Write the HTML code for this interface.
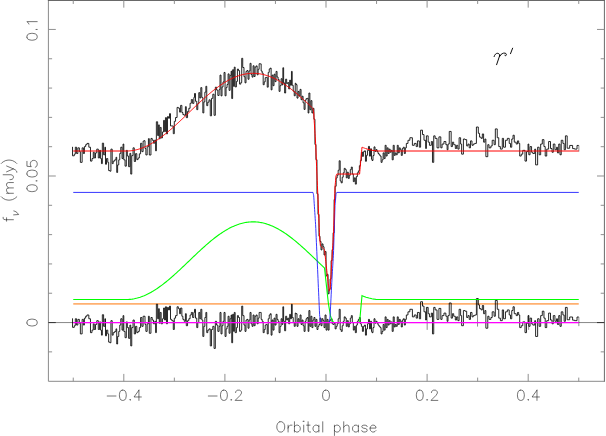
<!DOCTYPE html>
<html><head><meta charset="utf-8"><title>light curve</title>
<style>
html,body{margin:0;padding:0;background:#fff;font-family:"Liberation Sans",sans-serif;}
svg{display:block}
</style></head><body>
<svg width="606" height="436" viewBox="0 0 606 436">
<defs><filter id="sb" x="0" y="0" width="606" height="436" filterUnits="userSpaceOnUse"><feGaussianBlur stdDeviation="0.3"/></filter></defs>
<rect width="606" height="436" fill="#fff"/>
<g fill="none" stroke-linecap="butt" stroke-linejoin="miter">
<path d="M48.4 322.55 H604.4" stroke="#555" stroke-width="0.7"/>
<path d="M73.25 303.88 H578.75" stroke="#ffb070" stroke-width="1.9"/>
<g filter="url(#sb)"><path d="M72.29 146.96 L72.54 146.96 L72.54 155.80 L74.31 155.80 L74.31 154.15 L75.32 154.15 L75.32 147.21 L76.58 147.21 L76.58 153.52 L77.85 153.52 L77.85 147.84 L79.36 147.84 L79.36 151.63 L80.37 151.63 L80.37 162.36 L82.14 162.36 L82.14 147.84 L83.40 147.84 L83.40 153.52 L84.41 153.52 L84.41 146.58 L85.67 146.58 L85.67 144.69 L86.94 144.69 L86.94 143.42 L88.83 143.42 L88.83 147.21 L90.47 147.21 L90.47 161.10 L91.99 161.10 L91.99 158.57 L93.25 158.57 L93.25 152.26 L94.26 152.26 L94.26 157.94 L95.52 157.94 L95.52 152.89 L96.78 152.89 L96.78 149.10 L98.30 149.10 L98.30 157.94 L99.56 157.94 L99.56 150.37 L100.57 150.37 L100.57 158.57 L101.46 158.57 L101.46 163.62 L102.34 163.62 L102.34 143.17 L103.60 143.17 L103.60 154.79 L104.86 154.79 L104.86 147.21 L105.50 147.21 L105.50 164.25 L106.50 164.25 L106.50 158.57 L107.77 158.57 L107.77 162.36 L108.65 162.36 L108.65 170.57 L109.91 170.57 L109.91 171.20 L110.92 171.20 L110.92 149.10 L112.19 149.10 L112.19 163.62 L113.20 163.62 L113.20 161.10 L114.71 161.10 L114.71 159.84 L115.97 159.84 L115.97 157.31 L116.73 157.31 L116.73 172.46 L117.61 172.46 L117.61 164.89 L118.75 164.89 L118.75 159.84 L119.76 159.84 L119.76 153.52 L120.77 153.52 L120.77 147.21 L122.03 147.21 L122.03 158.57 L123.04 158.57 L123.04 144.06 L123.80 144.06 L123.80 159.84 L125.06 159.84 L125.06 166.15 L126.33 166.15 L126.33 150.37 L127.34 150.37 L127.34 156.03 L128.60 156.03 L128.60 166.69 L129.86 166.69 L129.86 153.35 L130.74 153.35 L130.74 174.08 L131.75 174.08 L131.75 155.62 L133.02 155.62 L133.02 147.84 L134.28 147.84 L134.28 161.48 L135.54 161.48 L135.54 153.63 L136.80 153.63 L136.80 159.62 L138.07 159.62 L138.07 157.99 L139.33 157.99 L139.33 153.81 L140.59 153.81 L140.59 143.28 L141.85 143.28 L141.85 151.65 L143.12 151.65 L143.12 141.12 L144.00 141.12 L144.00 140.72 L145.01 140.72 L145.01 148.51 L145.89 148.51 L145.89 154.96 L147.16 154.96 L147.16 146.77 L148.42 146.77 L148.42 138.65 L149.30 138.65 L149.30 155.02 L150.94 155.02 L150.94 138.43 L152.21 138.43 L152.21 140.21 L153.47 140.21 L153.47 143.23 L154.73 143.23 L154.73 140.02 L155.61 140.02 L155.61 150.85 L156.37 150.85 L156.37 121.78 L157.63 121.78 L157.63 135.52 L158.64 135.52 L158.64 124.85 L159.28 124.85 L159.28 138.83 L160.16 138.83 L160.16 127.41 L161.17 127.41 L161.17 137.93 L162.43 137.93 L162.43 131.97 L163.57 131.97 L163.57 120.41 L164.58 120.41 L164.58 131.65 L165.46 131.65 L165.46 117.64 L166.47 117.64 L166.47 133.86 L167.48 133.86 L167.48 116.61 L168.49 116.61 L168.49 118.29 L169.50 118.29 L169.50 113.65 L170.51 113.65 L170.51 125.92 L171.77 125.92 L171.77 125.97 L173.29 125.97 L173.29 133.69 L174.30 133.69 L174.30 121.31 L175.56 121.31 L175.56 117.53 L177.08 117.53 L177.08 107.41 L178.34 107.41 L178.34 108.14 L179.60 108.14 L179.60 112.13 L180.61 112.13 L180.61 105.38 L181.87 105.38 L181.87 112.51 L182.88 112.51 L182.88 114.59 L184.15 114.59 L184.15 115.28 L185.41 115.28 L185.41 106.68 L186.29 106.68 L186.29 117.65 L187.55 117.65 L187.55 111.39 L188.82 111.39 L188.82 108.29 L190.08 108.29 L190.08 103.29 L191.34 103.29 L191.34 99.55 L192.60 99.55 L192.60 103.40 L193.87 103.40 L193.87 97.44 L194.50 97.44 L194.50 93.51 L195.51 93.51 L195.51 101.27 L196.77 101.27 L196.77 109.66 L197.78 109.66 L197.78 103.67 L198.79 103.67 L198.79 92.63 L199.80 92.63 L199.80 98.00 L200.81 98.00 L200.81 87.61 L201.82 87.61 L201.82 97.41 L202.83 97.41 L202.83 112.91 L203.84 112.91 L203.84 101.91 L204.85 101.91 L204.85 92.17 L205.86 92.17 L205.86 86.29 L206.74 86.29 L206.74 105.66 L207.75 105.66 L207.75 102.16 L209.02 102.16 L209.02 99.83 L210.28 99.83 L210.28 115.82 L211.54 115.82 L211.54 98.38 L212.80 98.38 L212.80 94.21 L214.07 94.21 L214.07 115.31 L215.33 115.31 L215.33 87.20 L216.59 87.20 L216.59 90.05 L217.85 90.05 L217.85 95.44 L219.12 95.44 L219.12 89.62 L220.00 89.62 L220.00 75.08 L221.01 75.08 L221.01 95.85 L222.02 95.85 L222.02 86.98 L223.03 86.98 L223.03 81.91 L224.04 81.91 L224.04 72.44 L225.05 72.44 L225.05 95.81 L226.06 95.81 L226.06 87.64 L227.07 87.64 L227.07 84.53 L228.08 84.53 L228.08 73.88 L229.09 73.88 L229.09 90.38 L230.10 90.38 L230.10 75.35 L231.11 75.35 L231.11 71.15 L231.74 71.15 L231.74 98.56 L232.62 98.56 L232.62 69.72 L233.63 69.72 L233.63 86.40 L234.27 86.40 L234.27 67.14 L235.15 67.14 L235.15 86.90 L236.41 86.90 L236.41 81.42 L237.42 81.42 L237.42 69.06 L238.43 69.06 L238.43 70.59 L239.57 70.59 L239.57 84.11 L240.83 84.11 L240.83 82.54 L241.71 82.54 L241.71 58.30 L242.72 58.30 L242.72 67.50 L243.99 67.50 L243.99 76.72 L245.00 76.72 L245.00 82.84 L246.01 82.84 L246.01 71.31 L247.02 71.31 L247.02 70.54 L248.03 70.54 L248.03 79.25 L249.04 79.25 L249.04 70.95 L250.05 70.95 L250.05 63.30 L251.06 63.30 L251.06 74.62 L252.07 74.62 L252.07 77.12 L253.08 77.12 L253.08 65.75 L254.09 65.75 L254.09 76.51 L255.10 76.51 L255.10 67.09 L256.11 67.09 L256.11 65.90 L257.12 65.90 L257.12 74.83 L258.13 74.83 L258.13 69.27 L259.14 69.27 L259.14 63.73 L260.15 63.73 L260.15 63.89 L261.16 63.89 L261.16 71.03 L262.17 71.03 L262.17 73.14 L263.18 73.14 L263.18 84.73 L264.19 84.73 L264.19 81.84 L265.20 81.84 L265.20 77.70 L266.21 77.70 L266.21 77.38 L267.22 77.38 L267.22 87.17 L268.23 87.17 L268.23 72.38 L269.24 72.38 L269.24 68.96 L270.25 68.96 L270.25 68.07 L271.13 68.07 L271.13 89.89 L272.01 89.89 L272.01 75.15 L273.02 75.15 L273.02 85.70 L274.03 85.70 L274.03 74.19 L275.04 74.19 L275.04 81.63 L276.05 81.63 L276.05 71.41 L277.06 71.41 L277.06 77.00 L278.07 77.00 L278.07 79.45 L279.08 79.45 L279.08 91.39 L280.09 91.39 L280.09 85.67 L281.10 85.67 L281.10 78.71 L282.11 78.71 L282.11 84.94 L282.87 84.94 L282.87 67.75 L283.63 67.75 L283.63 82.85 L284.64 82.85 L284.64 93.00 L285.65 93.00 L285.65 79.17 L286.66 79.17 L286.66 83.67 L287.67 83.67 L287.67 82.50 L288.68 82.50 L288.68 88.92 L289.69 88.92 L289.69 80.12 L290.45 80.12 L290.45 85.21 L291.46 85.21 L291.46 71.38 L292.21 71.38 L292.21 85.33 L293.22 85.33 L293.22 91.18 L294.23 91.18 L294.23 95.79 L295.24 95.79 L295.24 83.26 L296.00 83.26 L296.00 84.63 L297.01 84.63 L297.01 98.11 L298.02 98.11 L298.02 91.40 L299.03 91.40 L299.03 96.06 L300.04 96.06 L300.04 89.37 L301.05 89.37 L301.05 99.73 L302.06 99.73 L302.06 96.22 L303.07 96.22 L303.07 102.81 L304.08 102.81 L304.08 109.41 L305.09 109.41 L305.09 100.24 L306.10 100.24 L306.10 98.65 L307.11 98.65 L307.11 98.33 L308.12 98.33 L308.12 113.04 L308.88 113.04 L308.88 93.04 L309.89 93.04 L309.89 109.77 L310.90 109.77 L310.90 100.63 L311.91 100.63 L311.91 112.96 L312.92 112.96 L312.92 108.31 L313.93 108.31 L313.93 119.23 L314.94 119.23 L314.94 144.48 L315.95 144.48 L315.95 159.69 L316.96 159.69 L316.96 193.75 L317.97 193.75 L317.97 214.36 L318.98 214.36 L318.98 236.23 L319.99 236.23 L319.99 241.36 L321.00 241.36 L321.00 249.90 L322.01 249.90 L322.01 243.92 L323.02 243.92 L323.02 246.77 L324.03 246.77 L324.03 254.96 L325.04 254.96 L325.04 251.56 L326.05 251.56 L326.05 275.92 L327.06 275.92 L327.06 274.41 L328.07 274.41 L328.07 293.81 L329.08 293.81 L329.08 289.25 L330.09 289.25 L330.09 279.09 L331.10 279.09 L331.10 260.66 L332.11 260.66 L332.11 249.68 L333.12 249.68 L333.12 232.83 L334.13 232.83 L334.13 199.52 L335.14 199.52 L335.14 186.27 L336.15 186.27 L336.15 177.96 L337.16 177.96 L337.16 175.30 L338.17 175.30 L338.17 170.25 L339.18 170.25 L339.18 160.78 L340.19 160.78 L340.19 180.98 L341.20 180.98 L341.20 182.87 L342.21 182.87 L342.21 177.19 L343.22 177.19 L343.22 172.77 L344.23 172.77 L344.23 168.36 L345.24 168.36 L345.24 169.62 L346.25 169.62 L346.25 177.82 L347.26 177.82 L347.26 172.14 L348.27 172.14 L348.27 178.45 L349.28 178.45 L349.28 175.30 L350.29 175.30 L350.29 169.62 L351.30 169.62 L351.30 167.09 L352.31 167.09 L352.31 174.04 L353.32 174.04 L353.32 181.61 L354.33 181.61 L354.33 177.82 L355.34 177.82 L355.34 184.14 L356.35 184.14 L356.35 176.56 L357.36 176.56 L357.36 172.77 L358.37 172.77 L358.37 170.88 L359.38 170.88 L359.38 165.74 L360.39 165.74 L360.39 160.59 L361.40 160.59 L361.40 152.02 L362.41 152.02 L362.41 156.37 L363.42 156.37 L363.42 151.72 L364.43 151.72 L364.43 150.83 L365.44 150.83 L365.44 161.28 L366.45 161.28 L366.45 155.30 L367.46 155.30 L367.46 150.55 L368.47 150.55 L368.47 146.41 L369.48 146.41 L369.48 156.14 L370.49 156.14 L370.49 148.79 L371.50 148.79 L371.50 159.05 L372.00 159.05 L372.00 160.46 L373.01 160.46 L373.01 155.58 L374.02 155.58 L374.02 146.88 L375.03 146.88 L375.03 151.42 L376.04 151.42 L376.04 149.62 L377.05 149.62 L377.05 151.58 L378.06 151.58 L378.06 153.51 L379.07 153.51 L379.07 154.79 L380.08 154.79 L380.08 156.05 L381.09 156.05 L381.09 162.36 L382.10 162.36 L382.10 159.84 L383.11 159.84 L383.11 152.89 L384.12 152.89 L384.12 158.57 L385.13 158.57 L385.13 145.32 L386.14 145.32 L386.14 156.05 L387.15 156.05 L387.15 147.84 L388.16 147.84 L388.16 153.52 L389.17 153.52 L389.17 149.10 L390.18 149.10 L390.18 152.26 L391.19 152.26 L391.19 150.37 L392.20 150.37 L392.20 159.84 L393.21 159.84 L393.21 145.32 L394.22 145.32 L394.22 155.42 L395.23 155.42 L395.23 152.89 L396.24 152.89 L396.24 154.79 L397.25 154.79 L397.25 145.32 L398.26 145.32 L398.26 152.89 L399.27 152.89 L399.27 147.84 L400.28 147.84 L400.28 149.74 L401.29 149.74 L401.29 155.42 L402.30 155.42 L402.30 148.47 L403.31 148.47 L403.31 147.21 L404.32 147.21 L404.32 153.52 L405.33 153.52 L405.33 147.84 L406.34 147.84 L406.34 143.42 L407.98 143.42 L407.98 140.27 L409.87 140.27 L409.87 137.74 L412.40 137.74 L412.40 145.32 L414.29 145.32 L414.29 143.42 L416.19 143.42 L416.19 146.58 L417.45 146.58 L417.45 140.90 L419.34 140.90 L419.34 147.21 L420.60 147.21 L420.60 130.17 L422.50 130.17 L422.50 134.59 L424.01 134.59 L424.01 140.27 L425.65 140.27 L425.65 148.47 L426.41 148.47 L426.41 135.85 L428.18 135.85 L428.18 142.16 L429.44 142.16 L429.44 145.32 L431.34 145.32 L431.34 141.53 L432.47 141.53 L432.47 162.36 L433.73 162.36 L433.73 135.85 L435.12 135.85 L435.12 138.37 L437.02 138.37 L437.02 147.84 L438.91 147.84 L438.91 136.86 L440.80 136.86 L440.80 147.84 L442.07 147.84 L442.07 144.06 L443.96 144.06 L443.96 141.53 L445.85 141.53 L445.85 144.69 L447.12 144.69 L447.12 149.74 L448.00 149.74 L448.00 144.06 L449.26 144.06 L449.26 131.43 L451.16 131.43 L451.16 146.58 L452.42 146.58 L452.42 142.16 L453.68 142.16 L453.68 144.69 L455.32 144.69 L455.32 148.47 L456.58 148.47 L456.58 145.32 L457.85 145.32 L457.85 149.10 L459.11 149.10 L459.11 137.74 L460.62 137.74 L460.62 144.06 L461.63 144.06 L461.63 154.15 L463.40 154.15 L463.40 139.01 L465.04 139.01 L465.04 139.64 L466.68 139.64 L466.68 145.95 L467.95 145.95 L467.95 144.06 L469.21 144.06 L469.21 147.84 L470.47 147.84 L470.47 140.90 L471.99 140.90 L471.99 145.32 L473.25 145.32 L473.25 144.06 L474.76 144.06 L474.76 143.42 L476.41 143.42 L476.41 127.01 L478.30 127.01 L478.30 133.32 L479.56 133.32 L479.56 137.11 L481.08 137.11 L481.08 138.37 L482.34 138.37 L482.34 133.96 L483.60 133.96 L483.60 142.16 L484.86 142.16 L484.86 139.01 L485.87 139.01 L485.87 156.68 L487.77 156.68 L487.77 144.69 L489.03 144.69 L489.03 147.84 L490.92 147.84 L490.92 145.95 L492.19 145.95 L492.19 140.27 L494.08 140.27 L494.08 144.69 L495.34 144.69 L495.34 128.91 L497.24 128.91 L497.24 137.74 L498.75 137.74 L498.75 146.58 L500.39 146.58 L500.39 149.10 L502.29 149.10 L502.29 138.37 L503.55 138.37 L503.55 147.21 L505.44 147.21 L505.44 140.27 L507.34 140.27 L507.34 138.37 L509.23 138.37 L509.23 143.42 L510.49 143.42 L510.49 147.21 L511.75 147.21 L511.75 139.01 L513.02 139.01 L513.02 135.22 L514.28 135.22 L514.28 142.16 L516.17 142.16 L516.17 144.06 L517.44 144.06 L517.44 140.90 L518.70 140.90 L518.70 143.42 L519.71 143.42 L519.71 156.05 L521.22 156.05 L521.22 154.15 L522.74 154.15 L522.74 150.37 L524.00 150.37 L524.00 150.37 L525.01 150.37 L525.01 161.10 L526.52 161.10 L526.52 151.63 L528.04 151.63 L528.04 144.06 L528.80 144.06 L528.80 154.79 L530.06 154.79 L530.06 146.58 L531.57 146.58 L531.57 152.26 L532.84 152.26 L532.84 153.52 L534.73 153.52 L534.73 149.10 L535.61 149.10 L535.61 164.89 L537.63 164.89 L537.63 147.21 L539.15 147.21 L539.15 154.79 L540.66 154.79 L540.66 144.06 L542.31 144.06 L542.31 139.64 L543.95 139.64 L543.95 146.58 L545.21 146.58 L545.21 156.05 L546.72 156.05 L546.72 149.10 L548.62 149.10 L548.62 141.53 L550.51 141.53 L550.51 148.47 L552.03 148.47 L552.03 152.26 L553.29 152.26 L553.29 144.06 L554.93 144.06 L554.93 149.74 L556.57 149.74 L556.57 147.21 L557.46 147.21 L557.46 152.89 L558.72 152.89 L558.72 144.06 L559.98 144.06 L559.98 154.79 L561.24 154.79 L561.24 140.27 L562.88 140.27 L562.88 143.42 L564.15 143.42 L564.15 149.74 L565.41 149.74 L565.41 135.85 L567.18 135.85 L567.18 148.22 L569.70 148.22 L569.70 145.44 L572.60 145.44 L572.60 148.60 L574.50 148.60 L574.50 149.10 L577.02 149.10 L577.02 145.44 L578.75 145.44" stroke="#000" stroke-width="0.85"/>
<path d="M72.29 318.51 L72.54 318.51 L72.54 327.35 L74.31 327.35 L74.31 325.71 L75.32 325.71 L75.32 318.76 L76.58 318.76 L76.58 325.07 L77.85 325.07 L77.85 319.39 L79.36 319.39 L79.36 323.18 L80.37 323.18 L80.37 333.91 L82.14 333.91 L82.14 319.39 L83.40 319.39 L83.40 325.07 L84.41 325.07 L84.41 318.13 L85.67 318.13 L85.67 316.24 L86.94 316.24 L86.94 314.98 L88.83 314.98 L88.83 318.76 L90.47 318.76 L90.47 332.65 L91.99 332.65 L91.99 330.12 L93.25 330.12 L93.25 323.81 L94.26 323.81 L94.26 329.49 L95.52 329.49 L95.52 324.44 L96.78 324.44 L96.78 320.66 L98.30 320.66 L98.30 329.49 L99.56 329.49 L99.56 321.92 L100.57 321.92 L100.57 330.12 L101.46 330.12 L101.46 335.17 L102.34 335.17 L102.34 314.72 L103.60 314.72 L103.60 326.34 L104.86 326.34 L104.86 318.76 L105.50 318.76 L105.50 335.81 L106.50 335.81 L106.50 330.12 L107.77 330.12 L107.77 333.91 L108.65 333.91 L108.65 342.12 L109.91 342.12 L109.91 342.75 L110.92 342.75 L110.92 320.66 L112.19 320.66 L112.19 335.17 L113.20 335.17 L113.20 332.65 L114.71 332.65 L114.71 331.39 L115.97 331.39 L115.97 328.86 L116.73 328.86 L116.73 344.01 L117.61 344.01 L117.61 336.44 L118.75 336.44 L118.75 331.39 L119.76 331.39 L119.76 325.07 L120.77 325.07 L120.77 318.76 L122.03 318.76 L122.03 330.12 L123.04 330.12 L123.04 315.61 L123.80 315.61 L123.80 331.39 L125.06 331.39 L125.06 337.70 L126.33 337.70 L126.33 321.92 L127.34 321.92 L127.34 327.60 L128.60 327.60 L128.60 338.33 L129.86 338.33 L129.86 325.07 L130.74 325.07 L130.74 345.91 L131.75 345.91 L131.75 327.60 L133.02 327.60 L133.02 320.03 L134.28 320.03 L134.28 333.91 L135.54 333.91 L135.54 326.34 L136.80 326.34 L136.80 332.65 L138.07 332.65 L138.07 331.39 L139.33 331.39 L139.33 327.60 L140.59 327.60 L140.59 317.50 L141.85 317.50 L141.85 326.34 L143.12 326.34 L143.12 316.24 L144.00 316.24 L144.00 316.24 L145.01 316.24 L145.01 324.44 L145.89 324.44 L145.89 331.39 L147.16 331.39 L147.16 323.81 L148.42 323.81 L148.42 316.24 L149.30 316.24 L149.30 333.28 L150.94 333.28 L150.94 317.50 L152.21 317.50 L152.21 320.03 L153.47 320.03 L153.47 323.81 L154.73 323.81 L154.73 321.29 L155.61 321.29 L155.61 332.65 L156.37 332.65 L156.37 304.24 L157.63 304.24 L157.63 318.76 L158.64 318.76 L158.64 308.66 L159.28 308.66 L159.28 323.18 L160.16 323.18 L160.16 312.45 L161.17 312.45 L161.17 323.81 L162.43 323.81 L162.43 318.76 L163.57 318.76 L163.57 308.03 L164.58 308.03 L164.58 320.03 L165.46 320.03 L165.46 306.77 L166.47 306.77 L166.47 323.81 L167.48 323.81 L167.48 307.40 L168.49 307.40 L168.49 309.93 L169.50 309.93 L169.50 306.14 L170.51 306.14 L170.51 319.39 L171.77 319.39 L171.77 320.66 L173.29 320.66 L173.29 329.49 L174.30 329.49 L174.30 318.13 L175.56 318.13 L175.56 315.61 L177.08 315.61 L177.08 306.77 L178.34 306.77 L178.34 308.66 L179.60 308.66 L179.60 313.71 L180.61 313.71 L180.61 308.03 L181.87 308.03 L181.87 316.24 L182.88 316.24 L182.88 319.39 L184.15 319.39 L184.15 321.29 L185.41 321.29 L185.41 313.71 L186.29 313.71 L186.29 325.71 L187.55 325.71 L187.55 320.66 L188.82 320.66 L188.82 318.76 L190.08 318.76 L190.08 314.98 L191.34 314.98 L191.34 312.45 L192.60 312.45 L192.60 317.50 L193.87 317.50 L193.87 312.45 L194.50 312.45 L194.50 309.29 L195.51 309.29 L195.51 318.13 L196.77 318.13 L196.77 327.60 L197.78 327.60 L197.78 322.55 L198.79 322.55 L198.79 312.45 L199.80 312.45 L199.80 318.76 L200.81 318.76 L200.81 309.29 L201.82 309.29 L201.82 320.03 L202.83 320.03 L202.83 336.44 L203.84 336.44 L203.84 326.34 L204.85 326.34 L204.85 317.50 L205.86 317.50 L205.86 312.45 L206.74 312.45 L206.74 332.65 L207.75 332.65 L207.75 330.12 L209.02 330.12 L209.02 328.86 L210.28 328.86 L210.28 345.91 L211.54 345.91 L211.54 329.49 L212.80 329.49 L212.80 326.34 L214.07 326.34 L214.07 348.43 L215.33 348.43 L215.33 321.29 L216.59 321.29 L216.59 325.07 L217.85 325.07 L217.85 331.39 L219.12 331.39 L219.12 326.34 L220.00 326.34 L220.00 312.45 L221.01 312.45 L221.01 333.91 L222.02 333.91 L222.02 325.71 L223.03 325.71 L223.03 321.29 L224.04 321.29 L224.04 312.45 L225.05 312.45 L225.05 336.44 L226.06 336.44 L226.06 328.86 L227.07 328.86 L227.07 326.34 L228.08 326.34 L228.08 316.24 L229.09 316.24 L229.09 333.28 L230.10 333.28 L230.10 318.76 L231.11 318.76 L231.11 314.98 L231.74 314.98 L231.74 342.75 L232.62 342.75 L232.62 314.34 L233.63 314.34 L233.63 331.39 L234.27 331.39 L234.27 312.45 L235.15 312.45 L235.15 332.65 L236.41 332.65 L236.41 327.60 L237.42 327.60 L237.42 315.61 L238.43 315.61 L238.43 317.50 L239.57 317.50 L239.57 331.39 L240.83 331.39 L240.83 330.12 L241.71 330.12 L241.71 306.14 L242.72 306.14 L242.72 315.61 L243.99 315.61 L243.99 325.07 L245.00 325.07 L245.00 331.39 L246.01 331.39 L246.01 320.03 L247.02 320.03 L247.02 319.39 L248.03 319.39 L248.03 328.23 L249.04 328.23 L249.04 320.03 L250.05 320.03 L250.05 312.45 L251.06 312.45 L251.06 323.81 L252.07 323.81 L252.07 326.34 L253.08 326.34 L253.08 314.98 L254.09 314.98 L254.09 325.71 L255.10 325.71 L255.10 316.24 L256.11 316.24 L256.11 314.98 L257.12 314.98 L257.12 323.81 L258.13 323.81 L258.13 318.13 L259.14 318.13 L259.14 312.45 L260.15 312.45 L260.15 312.45 L261.16 312.45 L261.16 319.39 L262.17 319.39 L262.17 321.29 L263.18 321.29 L263.18 332.65 L264.19 332.65 L264.19 329.49 L265.20 329.49 L265.20 325.07 L266.21 325.07 L266.21 324.44 L267.22 324.44 L267.22 333.91 L268.23 333.91 L268.23 318.76 L269.24 318.76 L269.24 314.98 L270.25 314.98 L270.25 313.71 L271.13 313.71 L271.13 335.17 L272.01 335.17 L272.01 320.03 L273.02 320.03 L273.02 330.12 L274.03 330.12 L274.03 318.13 L275.04 318.13 L275.04 325.07 L276.05 325.07 L276.05 314.34 L277.06 314.34 L277.06 319.39 L278.07 319.39 L278.07 321.29 L279.08 321.29 L279.08 332.65 L280.09 332.65 L280.09 326.34 L281.10 326.34 L281.10 318.76 L282.11 318.76 L282.11 324.44 L282.87 324.44 L282.87 306.77 L283.63 306.77 L283.63 321.29 L284.64 321.29 L284.64 330.76 L285.65 330.76 L285.65 316.24 L286.66 316.24 L286.66 320.03 L287.67 320.03 L287.67 318.13 L288.68 318.13 L288.68 323.81 L289.69 323.81 L289.69 314.34 L290.45 314.34 L290.45 318.76 L291.46 318.76 L291.46 304.24 L292.21 304.24 L292.21 317.50 L293.22 317.50 L293.22 322.55 L294.23 322.55 L294.23 326.34 L295.24 326.34 L295.24 313.08 L296.00 313.08 L296.00 313.71 L297.01 313.71 L297.01 326.34 L298.02 326.34 L298.02 318.76 L299.03 318.76 L299.03 322.55 L300.04 322.55 L300.04 314.98 L301.05 314.98 L301.05 324.44 L302.06 324.44 L302.06 320.03 L303.07 320.03 L303.07 325.71 L304.08 325.71 L304.08 331.39 L305.09 331.39 L305.09 321.29 L306.10 321.29 L306.10 318.76 L307.11 318.76 L307.11 317.50 L308.12 317.50 L308.12 331.39 L308.88 331.39 L308.88 310.56 L309.89 310.56 L309.89 326.34 L310.90 326.34 L310.90 316.24 L311.91 316.24 L311.91 327.60 L312.92 327.60 L312.92 320.03 L313.93 320.03 L313.93 317.50 L314.94 317.50 L314.94 326.34 L315.95 326.34 L315.95 319.39 L316.96 319.39 L316.96 329.49 L317.97 329.49 L317.97 326.34 L318.98 326.34 L318.98 324.44 L319.99 324.44 L319.99 318.13 L321.00 318.13 L321.00 325.71 L322.01 325.71 L322.01 318.76 L323.02 318.76 L323.02 320.66 L324.03 320.66 L324.03 327.60 L325.04 327.60 L325.04 314.98 L326.05 314.98 L326.05 330.12 L327.06 330.12 L327.06 319.39 L328.07 319.39 L328.07 330.12 L329.08 330.12 L329.08 321.29 L330.09 321.29 L330.09 320.03 L331.10 320.03 L331.10 318.76 L332.11 318.76 L332.11 323.81 L333.12 323.81 L333.12 324.44 L334.13 324.44 L334.13 323.18 L335.14 323.18 L335.14 328.86 L336.15 328.86 L336.15 326.34 L337.16 326.34 L337.16 323.81 L338.17 323.81 L338.17 318.76 L339.18 318.76 L339.18 309.29 L340.19 309.29 L340.19 329.49 L341.20 329.49 L341.20 331.39 L342.21 331.39 L342.21 325.71 L343.22 325.71 L343.22 321.29 L344.23 321.29 L344.23 316.87 L345.24 316.87 L345.24 318.13 L346.25 318.13 L346.25 326.34 L347.26 326.34 L347.26 320.66 L348.27 320.66 L348.27 326.97 L349.28 326.97 L349.28 323.81 L350.29 323.81 L350.29 318.13 L351.30 318.13 L351.30 315.61 L352.31 315.61 L352.31 322.55 L353.32 322.55 L353.32 330.12 L354.33 330.12 L354.33 326.34 L355.34 326.34 L355.34 332.65 L356.35 332.65 L356.35 325.07 L357.36 325.07 L357.36 321.29 L358.37 321.29 L358.37 319.39 L359.38 319.39 L359.38 317.50 L360.39 317.50 L360.39 323.81 L361.40 323.81 L361.40 326.34 L362.41 326.34 L362.41 331.39 L363.42 331.39 L363.42 326.34 L364.43 326.34 L364.43 325.07 L365.44 325.07 L365.44 335.17 L366.45 335.17 L366.45 328.86 L367.46 328.86 L367.46 323.81 L368.47 323.81 L368.47 319.39 L369.48 319.39 L369.48 328.86 L370.49 328.86 L370.49 321.29 L371.50 321.29 L371.50 331.39 L372.00 331.39 L372.00 332.65 L373.01 332.65 L373.01 327.60 L374.02 327.60 L374.02 318.76 L375.03 318.76 L375.03 323.18 L376.04 323.18 L376.04 321.29 L377.05 321.29 L377.05 323.18 L378.06 323.18 L378.06 325.07 L379.07 325.07 L379.07 326.34 L380.08 326.34 L380.08 327.60 L381.09 327.60 L381.09 333.91 L382.10 333.91 L382.10 331.39 L383.11 331.39 L383.11 324.44 L384.12 324.44 L384.12 330.12 L385.13 330.12 L385.13 316.87 L386.14 316.87 L386.14 327.60 L387.15 327.60 L387.15 319.39 L388.16 319.39 L388.16 325.07 L389.17 325.07 L389.17 320.66 L390.18 320.66 L390.18 323.81 L391.19 323.81 L391.19 321.92 L392.20 321.92 L392.20 331.39 L393.21 331.39 L393.21 316.87 L394.22 316.87 L394.22 326.97 L395.23 326.97 L395.23 324.44 L396.24 324.44 L396.24 326.34 L397.25 326.34 L397.25 316.87 L398.26 316.87 L398.26 324.44 L399.27 324.44 L399.27 319.39 L400.28 319.39 L400.28 321.29 L401.29 321.29 L401.29 326.97 L402.30 326.97 L402.30 320.03 L403.31 320.03 L403.31 318.76 L404.32 318.76 L404.32 325.07 L405.33 325.07 L405.33 319.39 L406.34 319.39 L406.34 314.98 L407.98 314.98 L407.98 311.82 L409.87 311.82 L409.87 309.29 L412.40 309.29 L412.40 316.87 L414.29 316.87 L414.29 314.98 L416.19 314.98 L416.19 318.13 L417.45 318.13 L417.45 312.45 L419.34 312.45 L419.34 318.76 L420.60 318.76 L420.60 301.72 L422.50 301.72 L422.50 306.14 L424.01 306.14 L424.01 311.82 L425.65 311.82 L425.65 320.03 L426.41 320.03 L426.41 307.40 L428.18 307.40 L428.18 313.71 L429.44 313.71 L429.44 316.87 L431.34 316.87 L431.34 313.08 L432.47 313.08 L432.47 333.91 L433.73 333.91 L433.73 307.40 L435.12 307.40 L435.12 309.93 L437.02 309.93 L437.02 319.39 L438.91 319.39 L438.91 308.41 L440.80 308.41 L440.80 319.39 L442.07 319.39 L442.07 315.61 L443.96 315.61 L443.96 313.08 L445.85 313.08 L445.85 316.24 L447.12 316.24 L447.12 321.29 L448.00 321.29 L448.00 315.61 L449.26 315.61 L449.26 302.98 L451.16 302.98 L451.16 318.13 L452.42 318.13 L452.42 313.71 L453.68 313.71 L453.68 316.24 L455.32 316.24 L455.32 320.03 L456.58 320.03 L456.58 316.87 L457.85 316.87 L457.85 320.66 L459.11 320.66 L459.11 309.29 L460.62 309.29 L460.62 315.61 L461.63 315.61 L461.63 325.71 L463.40 325.71 L463.40 310.56 L465.04 310.56 L465.04 311.19 L466.68 311.19 L466.68 317.50 L467.95 317.50 L467.95 315.61 L469.21 315.61 L469.21 319.39 L470.47 319.39 L470.47 312.45 L471.99 312.45 L471.99 316.87 L473.25 316.87 L473.25 315.61 L474.76 315.61 L474.76 314.98 L476.41 314.98 L476.41 298.56 L478.30 298.56 L478.30 304.88 L479.56 304.88 L479.56 308.66 L481.08 308.66 L481.08 309.93 L482.34 309.93 L482.34 305.51 L483.60 305.51 L483.60 313.71 L484.86 313.71 L484.86 310.56 L485.87 310.56 L485.87 328.23 L487.77 328.23 L487.77 316.24 L489.03 316.24 L489.03 319.39 L490.92 319.39 L490.92 317.50 L492.19 317.50 L492.19 311.82 L494.08 311.82 L494.08 316.24 L495.34 316.24 L495.34 300.46 L497.24 300.46 L497.24 309.29 L498.75 309.29 L498.75 318.13 L500.39 318.13 L500.39 320.66 L502.29 320.66 L502.29 309.93 L503.55 309.93 L503.55 318.76 L505.44 318.76 L505.44 311.82 L507.34 311.82 L507.34 309.93 L509.23 309.93 L509.23 314.98 L510.49 314.98 L510.49 318.76 L511.75 318.76 L511.75 310.56 L513.02 310.56 L513.02 306.77 L514.28 306.77 L514.28 313.71 L516.17 313.71 L516.17 315.61 L517.44 315.61 L517.44 312.45 L518.70 312.45 L518.70 314.98 L519.71 314.98 L519.71 327.60 L521.22 327.60 L521.22 325.71 L522.74 325.71 L522.74 321.92 L524.00 321.92 L524.00 321.92 L525.01 321.92 L525.01 332.65 L526.52 332.65 L526.52 323.18 L528.04 323.18 L528.04 315.61 L528.80 315.61 L528.80 326.34 L530.06 326.34 L530.06 318.13 L531.57 318.13 L531.57 323.81 L532.84 323.81 L532.84 325.07 L534.73 325.07 L534.73 320.66 L535.61 320.66 L535.61 336.44 L537.63 336.44 L537.63 318.76 L539.15 318.76 L539.15 326.34 L540.66 326.34 L540.66 315.61 L542.31 315.61 L542.31 311.19 L543.95 311.19 L543.95 318.13 L545.21 318.13 L545.21 327.60 L546.72 327.60 L546.72 320.66 L548.62 320.66 L548.62 313.08 L550.51 313.08 L550.51 320.03 L552.03 320.03 L552.03 323.81 L553.29 323.81 L553.29 315.61 L554.93 315.61 L554.93 321.29 L556.57 321.29 L556.57 318.76 L557.46 318.76 L557.46 324.44 L558.72 324.44 L558.72 315.61 L559.98 315.61 L559.98 326.34 L561.24 326.34 L561.24 311.82 L562.88 311.82 L562.88 314.98 L564.15 314.98 L564.15 321.29 L565.41 321.29 L565.41 307.40 L567.18 307.40 L567.18 319.77 L569.70 319.77 L569.70 317.00 L572.60 317.00 L572.60 320.15 L574.50 320.15 L574.50 320.66 L577.02 320.66 L577.02 317.00 L578.75 317.00" stroke="#000" stroke-width="0.85"/></g>
<path d="M427.17 307.40 V329.87 M477.54 298.56 V326.59 M528.67 314.98 V329.87 M578.85 317.05 V326.15 M578.85 145.50 V151.50" stroke="#000" stroke-width="0.45"/>
<path d="M73.25 299.51 L127.25 299.51 L128.25 299.48 L129.25 299.42 L130.25 299.34 L131.25 299.24 L132.25 299.11 L133.25 298.95 L134.25 298.77 L135.25 298.56 L136.25 298.33 L137.25 298.08 L138.25 297.80 L139.25 297.50 L140.25 297.18 L141.25 296.83 L142.25 296.46 L143.25 296.07 L144.25 295.66 L145.25 295.22 L146.25 294.77 L147.25 294.29 L148.25 293.79 L149.25 293.27 L150.25 292.73 L151.25 292.17 L152.25 291.60 L153.25 291.00 L154.25 290.38 L155.25 289.75 L156.25 289.10 L157.25 288.43 L158.25 287.74 L159.25 287.04 L160.25 286.32 L161.25 285.59 L162.25 284.84 L163.25 284.08 L164.25 283.30 L165.25 282.51 L166.25 281.70 L167.25 280.89 L168.25 280.06 L169.25 279.22 L170.25 278.36 L171.25 277.50 L172.25 276.63 L173.25 275.75 L174.25 274.85 L175.25 273.95 L176.25 273.05 L177.25 272.13 L178.25 271.21 L179.25 270.28 L180.25 269.35 L181.25 268.41 L182.25 267.46 L183.25 266.51 L184.25 265.56 L185.25 264.61 L186.25 263.65 L187.25 262.70 L188.25 261.74 L189.25 260.78 L190.25 259.82 L191.25 258.86 L192.25 257.90 L193.25 256.95 L194.25 255.99 L195.25 255.04 L196.25 254.10 L197.25 253.15 L198.25 252.21 L199.25 251.28 L200.25 250.36 L201.25 249.44 L202.25 248.52 L203.25 247.62 L204.25 246.72 L205.25 245.83 L206.25 244.95 L207.25 244.08 L208.25 243.22 L209.25 242.37 L210.25 241.53 L211.25 240.70 L212.25 239.89 L213.25 239.09 L214.25 238.30 L215.25 237.52 L216.25 236.76 L217.25 236.01 L218.25 235.28 L219.25 234.57 L220.25 233.87 L221.25 233.18 L222.25 232.52 L223.25 231.87 L224.25 231.23 L225.25 230.62 L226.25 230.02 L227.25 229.44 L228.25 228.89 L229.25 228.35 L230.25 227.83 L231.25 227.33 L232.25 226.85 L233.25 226.39 L234.25 225.95 L235.25 225.53 L236.25 225.14 L237.25 224.76 L238.25 224.41 L239.25 224.08 L240.25 223.77 L241.25 223.48 L242.25 223.22 L243.25 222.98 L244.25 222.76 L245.25 222.56 L246.25 222.39 L247.25 222.24 L248.25 222.12 L249.25 222.02 L250.25 221.94 L251.25 221.88 L252.25 221.85 L253.25 221.84 L254.25 221.86 L255.25 221.89 L256.25 221.96 L257.25 222.04 L258.25 222.15 L259.25 222.28 L260.25 222.44 L261.25 222.62 L262.25 222.82 L263.25 223.04 L264.25 223.29 L265.25 223.56 L266.25 223.85 L267.25 224.17 L268.25 224.51 L269.25 224.87 L270.25 225.25 L271.25 225.65 L272.25 226.07 L273.25 226.52 L274.25 226.98 L275.25 227.47 L276.25 227.97 L277.25 228.50 L278.25 229.04 L279.25 229.61 L280.25 230.19 L281.25 230.79 L282.25 231.41 L283.25 232.05 L284.25 232.70 L285.25 233.38 L286.25 234.07 L287.25 234.77 L288.25 235.49 L289.25 236.23 L290.25 236.98 L291.25 237.74 L292.25 238.52 L293.25 239.31 L294.25 240.12 L295.25 240.94 L296.25 241.77 L297.25 242.61 L298.25 243.46 L299.25 244.33 L300.25 245.20 L301.25 246.08 L302.25 246.97 L303.25 247.87 L304.25 248.78 L305.25 249.70 L306.25 250.62 L307.25 251.55 L308.25 252.48 L309.25 253.42 L310.00 254.13 L310.20 254.32 L310.40 254.51 L310.60 254.70 L310.80 254.89 L311.00 255.08 L311.20 255.27 L311.40 255.46 L311.60 255.65 L311.80 255.84 L312.00 256.03 L312.20 256.22 L312.40 256.41 L312.60 256.60 L312.80 256.79 L313.00 256.98 L313.20 257.17 L313.40 257.36 L313.60 257.55 L313.80 257.74 L314.00 257.94 L314.20 258.13 L314.40 258.32 L314.60 258.51 L314.80 258.70 L315.00 258.89 L315.20 259.08 L315.40 259.28 L315.60 259.47 L315.80 259.66 L316.00 259.85 L316.20 260.04 L316.40 260.24 L316.60 260.43 L316.80 260.62 L317.00 260.81 L317.20 261.00 L317.40 261.20 L317.60 261.39 L317.80 261.58 L318.00 261.77 L318.20 261.96 L318.40 262.15 L318.60 262.35 L318.80 262.54 L319.00 262.73 L319.20 262.92 L319.40 263.11 L319.60 263.30 L319.80 263.50 L320.00 263.69 L320.20 263.88 L320.40 264.07 L320.60 264.26 L320.80 264.45 L321.00 264.64 L321.20 264.83 L321.40 265.03 L321.60 265.22 L321.80 265.41 L322.00 265.60 L322.20 265.79 L322.40 265.98 L322.60 266.17 L322.80 266.36 L323.00 266.55 L323.20 266.74 L323.40 266.93 L323.60 267.12 L323.80 267.31 L324.00 267.50 L324.20 267.69 L324.40 267.87 L324.60 268.91 L324.80 270.74 L325.00 272.56 L325.20 274.39 L325.40 276.22 L325.60 278.04 L325.80 279.87 L326.00 281.69 L326.20 283.52 L326.40 285.34 L326.60 287.17 L326.80 288.99 L327.00 290.82 L327.20 292.65 L327.40 294.47 L327.60 296.30 L327.80 298.12 L328.00 299.95 L328.20 301.77 L328.40 303.60 L328.60 304.78 L328.80 305.96 L329.00 307.14 L329.20 308.32 L329.40 309.50 L329.60 310.69 L329.80 311.87 L330.00 313.05 L330.20 314.23 L330.40 315.41 L330.60 316.29 L330.80 316.86 L331.00 317.43 L331.20 318.01 L331.40 318.58 L331.60 319.15 L331.80 319.73 L332.00 320.30 L332.20 320.57 L332.40 320.83 L332.60 321.10 L332.80 321.37 L333.00 321.63 L333.20 321.90 L333.40 322.03 L333.60 322.16 L333.80 322.29 L334.00 322.42 L334.20 322.55 L359.60 322.55 L359.80 320.23 L360.00 317.92 L360.20 315.63 L360.40 313.36 L360.60 311.10 L360.80 308.85 L361.00 306.62 L361.20 304.40 L361.40 302.20 L361.60 300.01 L361.80 297.84 L362.00 295.67 L362.20 295.76 L362.40 295.84 L362.60 295.92 L362.80 296.01 L363.00 296.09 L363.20 296.17 L363.40 296.25 L363.60 296.32 L363.80 296.40 L364.00 296.48 L364.20 296.55 L364.40 296.63 L364.60 296.70 L364.80 296.77 L365.00 296.85 L365.20 296.92 L365.40 296.99 L365.60 297.06 L365.80 297.12 L366.00 297.19 L367.00 297.51 L368.00 297.81 L369.00 298.09 L370.00 298.34 L371.00 298.57 L372.00 298.78 L373.00 298.96 L374.00 299.11 L375.00 299.24 L376.00 299.35 L377.00 299.43 L378.00 299.48 L379.00 299.51 L578.75 299.51" stroke="#00ff00" stroke-width="1.1"/>
<path d="M73.25 192.41 L313.00 192.41 L313.20 193.34 L313.40 194.27 L313.60 195.20 L313.80 197.20 L314.00 200.25 L314.20 203.31 L314.40 206.37 L314.60 209.43 L314.80 212.49 L315.00 215.55 L315.20 218.60 L315.40 221.66 L315.60 224.72 L315.80 228.54 L316.00 233.13 L316.20 237.71 L316.40 242.30 L316.60 246.88 L316.80 251.47 L317.00 256.05 L317.20 260.57 L317.40 265.08 L317.60 269.59 L317.80 274.11 L318.00 278.62 L318.20 283.14 L318.40 287.65 L318.60 292.17 L318.80 296.68 L319.00 301.20 L319.20 305.71 L319.40 310.23 L319.60 314.74 L319.80 316.69 L320.00 318.65 L320.20 320.60 L320.40 322.55 L329.40 322.55 L329.60 320.69 L329.80 318.83 L330.00 316.97 L330.20 314.06 L330.40 310.08 L330.60 306.11 L330.80 302.14 L331.00 298.17 L331.20 294.19 L331.40 290.22 L331.60 286.25 L331.80 282.28 L332.00 278.30 L332.20 275.01 L332.40 271.71 L332.60 268.41 L332.80 265.12 L333.00 261.82 L333.20 258.52 L333.40 255.23 L333.60 250.37 L333.80 243.95 L334.00 237.53 L334.20 231.11 L334.40 224.69 L334.60 218.27 L334.80 211.85 L335.00 205.43 L335.20 203.21 L335.40 201.00 L335.60 198.79 L335.80 196.58 L336.00 194.37 L336.20 193.81 L336.40 193.25 L336.60 192.69 L336.80 192.41 L578.75 192.41" stroke="#2020ff" stroke-width="0.9"/>
<path d="M73.25 151.00 L126.25 151.00 L127.25 150.99 L128.25 150.97 L129.25 150.91 L130.25 150.83 L131.25 150.72 L132.25 150.59 L133.25 150.44 L134.25 150.25 L135.25 150.05 L136.25 149.82 L137.25 149.57 L138.25 149.29 L139.25 148.99 L140.25 148.67 L141.25 148.32 L142.25 147.95 L143.25 147.56 L144.25 147.14 L145.25 146.71 L146.25 146.25 L147.25 145.78 L148.25 145.28 L149.25 144.76 L150.25 144.22 L151.25 143.66 L152.25 143.08 L153.25 142.49 L154.25 141.87 L155.25 141.24 L156.25 140.59 L157.25 139.92 L158.25 139.23 L159.25 138.53 L160.25 137.81 L161.25 137.08 L162.25 136.33 L163.25 135.56 L164.25 134.79 L165.25 134.00 L166.25 133.19 L167.25 132.37 L168.25 131.54 L169.25 130.70 L170.25 129.85 L171.25 128.99 L172.25 128.11 L173.25 127.23 L174.25 126.34 L175.25 125.44 L176.25 124.53 L177.25 123.62 L178.25 122.69 L179.25 121.77 L180.25 120.83 L181.25 119.89 L182.25 118.95 L183.25 118.00 L184.25 117.05 L185.25 116.10 L186.25 115.14 L187.25 114.18 L188.25 113.22 L189.25 112.26 L190.25 111.30 L191.25 110.34 L192.25 109.39 L193.25 108.43 L194.25 107.48 L195.25 106.53 L196.25 105.58 L197.25 104.64 L198.25 103.70 L199.25 102.77 L200.25 101.84 L201.25 100.92 L202.25 100.01 L203.25 99.10 L204.25 98.20 L205.25 97.31 L206.25 96.43 L207.25 95.56 L208.25 94.70 L209.25 93.85 L210.25 93.02 L211.25 92.19 L212.25 91.37 L213.25 90.57 L214.25 89.78 L215.25 89.01 L216.25 88.25 L217.25 87.50 L218.25 86.77 L219.25 86.05 L220.25 85.35 L221.25 84.67 L222.25 84.00 L223.25 83.35 L224.25 82.72 L225.25 82.10 L226.25 81.51 L227.25 80.93 L228.25 80.37 L229.25 79.83 L230.25 79.31 L231.25 78.81 L232.25 78.33 L233.25 77.87 L234.25 77.43 L235.25 77.02 L236.25 76.62 L237.25 76.25 L238.25 75.89 L239.25 75.56 L240.25 75.25 L241.25 74.97 L242.25 74.71 L243.25 74.46 L244.25 74.25 L245.25 74.05 L246.25 73.88 L247.25 73.73 L248.25 73.60 L249.25 73.50 L250.25 73.42 L251.25 73.37 L252.25 73.34 L253.25 73.33 L254.25 73.34 L255.25 73.38 L256.25 73.44 L257.25 73.53 L258.25 73.64 L259.25 73.77 L260.25 73.93 L261.25 74.10 L262.25 74.31 L263.25 74.53 L264.25 74.78 L265.25 75.05 L266.25 75.34 L267.25 75.66 L268.25 75.99 L269.25 76.35 L270.25 76.73 L271.25 77.13 L272.25 77.56 L273.25 78.00 L274.25 78.47 L275.25 78.95 L276.25 79.46 L277.25 79.98 L278.25 80.53 L279.25 81.09 L280.25 81.68 L281.25 82.28 L282.25 82.90 L283.25 83.54 L284.25 84.19 L285.25 84.86 L286.25 85.55 L287.25 86.26 L288.25 86.98 L289.25 87.71 L290.25 88.46 L291.25 89.23 L292.25 90.01 L293.25 90.80 L294.25 91.61 L295.25 92.42 L296.25 93.25 L297.25 94.10 L298.25 94.95 L299.25 95.81 L300.25 96.69 L301.25 97.57 L302.25 98.46 L303.25 99.36 L304.25 100.27 L305.25 101.18 L306.25 102.11 L307.25 103.03 L308.25 103.97 L309.25 104.91 L310.00 105.62 L310.20 105.80 L310.40 105.99 L310.60 106.18 L310.80 106.37 L311.00 106.56 L311.20 106.75 L311.40 106.94 L311.60 107.13 L311.80 107.32 L312.00 107.51 L312.20 107.70 L312.40 107.89 L312.60 108.08 L312.80 108.28 L313.00 108.47 L313.20 109.59 L313.40 110.71 L313.60 111.83 L313.80 114.01 L314.00 117.26 L314.20 120.51 L314.40 123.76 L314.60 127.01 L314.80 130.26 L315.00 133.51 L315.20 136.76 L315.40 140.01 L315.60 143.26 L315.80 147.27 L316.00 152.05 L316.20 156.83 L316.40 161.60 L316.60 166.38 L316.80 171.16 L317.00 175.93 L317.20 180.64 L317.40 185.35 L317.60 190.05 L317.80 194.76 L318.00 199.47 L318.20 204.17 L318.40 208.88 L318.60 213.59 L318.80 218.29 L319.00 223.00 L319.20 227.71 L319.40 232.41 L319.60 237.12 L319.80 239.26 L320.00 241.41 L320.20 243.55 L320.40 245.69 L320.60 245.88 L320.80 246.08 L321.00 246.27 L321.20 246.46 L321.40 246.65 L321.60 246.84 L321.80 247.03 L322.00 247.22 L322.20 247.41 L322.40 247.60 L322.60 247.79 L322.80 247.98 L323.00 248.17 L323.20 248.36 L323.40 248.55 L323.60 248.74 L323.80 248.93 L324.00 249.12 L324.20 249.31 L324.40 249.50 L324.60 250.54 L324.80 252.36 L325.00 254.19 L325.20 256.01 L325.40 257.84 L325.60 259.66 L325.80 261.49 L326.00 263.31 L326.20 265.14 L326.40 266.97 L326.60 268.79 L326.80 270.62 L327.00 272.44 L327.20 274.27 L327.40 276.09 L327.60 277.92 L327.80 279.75 L328.00 281.57 L328.20 283.40 L328.40 285.22 L328.60 286.40 L328.80 287.58 L329.00 288.77 L329.20 289.95 L329.40 291.13 L329.60 290.45 L329.80 289.77 L330.00 289.09 L330.20 287.36 L330.40 284.57 L330.60 281.47 L330.80 278.07 L331.00 274.67 L331.20 271.27 L331.40 267.87 L331.60 264.47 L331.80 261.08 L332.00 257.68 L332.20 254.65 L332.40 251.62 L332.60 248.59 L332.80 245.56 L333.00 242.53 L333.20 239.50 L333.40 236.33 L333.60 231.60 L333.80 225.31 L334.00 219.02 L334.20 212.73 L334.40 206.31 L334.60 199.89 L334.80 193.47 L335.00 187.05 L335.20 184.84 L335.40 182.63 L335.60 180.41 L335.80 178.20 L336.00 175.99 L336.20 175.43 L336.40 174.87 L336.60 174.32 L336.80 174.04 L359.60 174.04 L359.80 171.71 L360.00 169.41 L360.20 167.12 L360.40 164.84 L360.60 162.58 L360.80 160.34 L361.00 158.11 L361.20 155.89 L361.40 153.69 L361.60 151.50 L361.80 149.32 L362.00 147.16 L362.20 147.24 L362.40 147.33 L362.60 147.41 L362.80 147.49 L363.00 147.57 L363.20 147.65 L363.40 147.73 L363.60 147.81 L363.80 147.89 L364.00 147.96 L364.20 148.04 L364.40 148.11 L364.60 148.19 L364.80 148.26 L365.00 148.33 L365.20 148.40 L365.40 148.47 L365.60 148.54 L365.80 148.61 L366.00 148.68 L367.00 149.00 L368.00 149.30 L369.00 149.58 L370.00 149.83 L371.00 150.06 L372.00 150.26 L373.00 150.44 L374.00 150.60 L375.00 150.73 L376.00 150.83 L377.00 150.91 L378.00 150.97 L379.00 151.00 L578.75 151.00" stroke="#ff0000" stroke-width="1.0"/>
<path d="M73.25 322.55 H578.75" stroke="#ff00ff" stroke-width="1.15"/>
<path d="M48.4 0 V381.3 H604.4" stroke="#8a8a8a" stroke-width="1"/>
<path d="M604.4 381.8 V0" stroke="#6a6a6a" stroke-width="1"/>
<path d="M47.9 0.45 H604.9" stroke="#606060" stroke-width="1"/>
<path d="M73.25 381.30 V377.60 M73.25 0.25 V3.95 M123.80 381.30 V373.90 M123.80 0.25 V7.65 M174.35 381.30 V377.60 M174.35 0.25 V3.95 M224.90 381.30 V373.90 M224.90 0.25 V7.65 M275.45 381.30 V377.60 M275.45 0.25 V3.95 M326.00 381.30 V373.90 M326.00 0.25 V7.65 M376.55 381.30 V377.60 M376.55 0.25 V3.95 M427.10 381.30 V373.90 M427.10 0.25 V7.65 M477.65 381.30 V377.60 M477.65 0.25 V3.95 M528.20 381.30 V373.90 M528.20 0.25 V7.65 M578.75 381.30 V377.60 M578.75 0.25 V3.95 M48.40 351.86 H52.10 M604.40 351.86 H600.70 M48.40 322.55 H55.80 M604.40 322.55 H597.00 M48.40 293.24 H52.10 M604.40 293.24 H600.70 M48.40 263.93 H52.10 M604.40 263.93 H600.70 M48.40 234.62 H52.10 M604.40 234.62 H600.70 M48.40 205.31 H52.10 M604.40 205.31 H600.70 M48.40 176.00 H55.80 M604.40 176.00 H597.00 M48.40 146.69 H52.10 M604.40 146.69 H600.70 M48.40 117.38 H52.10 M604.40 117.38 H600.70 M48.40 88.07 H52.10 M604.40 88.07 H600.70 M48.40 58.76 H52.10 M604.40 58.76 H600.70 M48.40 29.45 H55.80 M604.40 29.45 H597.00" stroke="#8a8a8a" stroke-width="0.95"/>
<path d="M48.4 322.55 h7.4 M604.4 322.55 h-7.4" stroke="#222" stroke-width="0.8"/>
<path d="M107.21 396.01 L115.99 396.01 M122.34 390.15 L120.87 390.64 L119.90 392.10 L119.41 394.54 L119.41 396.01 L119.90 398.45 L120.87 399.91 L122.34 400.40 L123.31 400.40 L124.78 399.91 L125.75 398.45 L126.24 396.01 L126.24 394.54 L125.75 392.10 L124.78 390.64 L123.31 390.15 L122.34 390.15 M130.14 399.42 L129.66 399.91 L130.14 400.40 L130.63 399.91 L130.14 399.42 M138.93 390.15 L134.05 396.98 L141.37 396.98 M138.93 390.15 L138.93 400.40 M208.31 396.01 L217.09 396.01 M223.44 390.15 L221.97 390.64 L221.00 392.10 L220.51 394.54 L220.51 396.01 L221.00 398.45 L221.97 399.91 L223.44 400.40 L224.41 400.40 L225.88 399.91 L226.85 398.45 L227.34 396.01 L227.34 394.54 L226.85 392.10 L225.88 390.64 L224.41 390.15 L223.44 390.15 M231.24 399.42 L230.76 399.91 L231.24 400.40 L231.73 399.91 L231.24 399.42 M235.64 392.59 L235.64 392.10 L236.12 391.13 L236.61 390.64 L237.59 390.15 L239.54 390.15 L240.52 390.64 L241.00 391.13 L241.49 392.10 L241.49 393.08 L241.00 394.06 L240.03 395.52 L235.15 400.40 L241.98 400.40 M325.51 390.15 L324.05 390.64 L323.07 392.10 L322.58 394.54 L322.58 396.01 L323.07 398.45 L324.05 399.91 L325.51 400.40 L326.49 400.40 L327.95 399.91 L328.93 398.45 L329.42 396.01 L329.42 394.54 L328.93 392.10 L327.95 390.64 L326.49 390.15 L325.51 390.15 M419.29 390.15 L417.83 390.64 L416.85 392.10 L416.36 394.54 L416.36 396.01 L416.85 398.45 L417.83 399.91 L419.29 400.40 L420.27 400.40 L421.73 399.91 L422.71 398.45 L423.20 396.01 L423.20 394.54 L422.71 392.10 L421.73 390.64 L420.27 390.15 L419.29 390.15 M427.10 399.42 L426.61 399.91 L427.10 400.40 L427.59 399.91 L427.10 399.42 M431.49 392.59 L431.49 392.10 L431.98 391.13 L432.47 390.64 L433.44 390.15 L435.40 390.15 L436.37 390.64 L436.86 391.13 L437.35 392.10 L437.35 393.08 L436.86 394.06 L435.88 395.52 L431.00 400.40 L437.84 400.40 M520.39 390.15 L518.93 390.64 L517.95 392.10 L517.46 394.54 L517.46 396.01 L517.95 398.45 L518.93 399.91 L520.39 400.40 L521.37 400.40 L522.83 399.91 L523.81 398.45 L524.30 396.01 L524.30 394.54 L523.81 392.10 L522.83 390.64 L521.37 390.15 L520.39 390.15 M528.20 399.42 L527.71 399.91 L528.20 400.40 L528.69 399.91 L528.20 399.42 M536.98 390.15 L532.10 396.98 L539.42 396.98 M536.98 390.15 L536.98 400.40 M279.80 421.75 L278.82 422.24 L277.84 423.22 L277.36 424.19 L276.87 425.66 L276.87 428.10 L277.36 429.56 L277.84 430.54 L278.82 431.51 L279.80 432.00 L281.75 432.00 L282.72 431.51 L283.70 430.54 L284.19 429.56 L284.68 428.10 L284.68 425.66 L284.19 424.19 L283.70 423.22 L282.72 422.24 L281.75 421.75 L279.80 421.75 M288.09 425.17 L288.09 432.00 M288.09 428.10 L288.58 426.63 L289.56 425.66 L290.53 425.17 L292.00 425.17 M294.44 421.75 L294.44 432.00 M294.44 426.63 L295.41 425.66 L296.39 425.17 L297.85 425.17 L298.83 425.66 L299.80 426.63 L300.29 428.10 L300.29 429.07 L299.80 430.54 L298.83 431.51 L297.85 432.00 L296.39 432.00 L295.41 431.51 L294.44 430.54 M303.22 421.26 L303.71 421.75 L304.20 421.26 L303.71 420.78 L303.22 421.26 M303.71 425.17 L303.71 432.00 M308.10 421.75 L308.10 430.05 L308.59 431.51 L309.56 432.00 L310.54 432.00 M306.64 425.17 L310.05 425.17 M318.84 425.17 L318.84 432.00 M318.84 426.63 L317.86 425.66 L316.88 425.17 L315.42 425.17 L314.44 425.66 L313.47 426.63 L312.98 428.10 L312.98 429.07 L313.47 430.54 L314.44 431.51 L315.42 432.00 L316.88 432.00 L317.86 431.51 L318.84 430.54 M322.74 421.75 L322.74 432.00 M334.45 425.17 L334.45 435.42 M334.45 426.63 L335.43 425.66 L336.40 425.17 L337.87 425.17 L338.84 425.66 L339.82 426.63 L340.31 428.10 L340.31 429.07 L339.82 430.54 L338.84 431.51 L337.87 432.00 L336.40 432.00 L335.43 431.51 L334.45 430.54 M343.72 421.75 L343.72 432.00 M343.72 427.12 L345.19 425.66 L346.16 425.17 L347.63 425.17 L348.60 425.66 L349.09 427.12 L349.09 432.00 M358.36 425.17 L358.36 432.00 M358.36 426.63 L357.39 425.66 L356.41 425.17 L354.95 425.17 L353.97 425.66 L353.00 426.63 L352.51 428.10 L352.51 429.07 L353.00 430.54 L353.97 431.51 L354.95 432.00 L356.41 432.00 L357.39 431.51 L358.36 430.54 M367.15 426.63 L366.66 425.66 L365.20 425.17 L363.73 425.17 L362.27 425.66 L361.78 426.63 L362.27 427.61 L363.24 428.10 L365.68 428.58 L366.66 429.07 L367.15 430.05 L367.15 430.54 L366.66 431.51 L365.20 432.00 L363.73 432.00 L362.27 431.51 L361.78 430.54 M370.08 428.10 L375.93 428.10 L375.93 427.12 L375.44 426.14 L374.96 425.66 L373.98 425.17 L372.52 425.17 L371.54 425.66 L370.56 426.63 L370.08 428.10 L370.08 429.07 L370.56 430.54 L371.54 431.51 L372.52 432.00 L373.98 432.00 L374.96 431.51 L375.93 430.54 M26.95 323.04 L27.44 324.50 L28.90 325.48 L31.34 325.97 L32.81 325.97 L35.25 325.48 L36.71 324.50 L37.20 323.04 L37.20 322.06 L36.71 320.60 L35.25 319.62 L32.81 319.13 L31.34 319.13 L28.90 319.62 L27.44 320.60 L26.95 322.06 L26.95 323.04 M26.95 188.69 L27.44 190.15 L28.90 191.13 L31.34 191.62 L32.81 191.62 L35.25 191.13 L36.71 190.15 L37.20 188.69 L37.20 187.71 L36.71 186.25 L35.25 185.27 L32.81 184.78 L31.34 184.78 L28.90 185.27 L27.44 186.25 L26.95 187.71 L26.95 188.69 M36.22 180.88 L36.71 181.37 L37.20 180.88 L36.71 180.39 L36.22 180.88 M26.95 174.05 L27.44 175.51 L28.90 176.49 L31.34 176.98 L32.81 176.98 L35.25 176.49 L36.71 175.51 L37.20 174.05 L37.20 173.07 L36.71 171.61 L35.25 170.63 L32.81 170.14 L31.34 170.14 L28.90 170.63 L27.44 171.61 L26.95 173.07 L26.95 174.05 M26.95 161.36 L26.95 166.24 L31.34 166.73 L30.86 166.24 L30.37 164.78 L30.37 163.31 L30.86 161.85 L31.83 160.87 L33.30 160.38 L34.27 160.38 L35.74 160.87 L36.71 161.85 L37.20 163.31 L37.20 164.78 L36.71 166.24 L36.22 166.73 L35.25 167.22 M26.95 37.26 L27.44 38.72 L28.90 39.70 L31.34 40.19 L32.81 40.19 L35.25 39.70 L36.71 38.72 L37.20 37.26 L37.20 36.28 L36.71 34.82 L35.25 33.84 L32.81 33.35 L31.34 33.35 L28.90 33.84 L27.44 34.82 L26.95 36.28 L26.95 37.26 M36.22 29.45 L36.71 29.94 L37.20 29.45 L36.71 28.96 L36.22 29.45 M28.90 24.08 L28.42 23.11 L26.95 21.64 L37.20 21.64 M3.15 217.27 L3.15 218.24 L3.64 219.22 L5.10 219.71 L13.40 219.71 M6.57 221.17 L6.57 217.76 M13.63 214.87 L18.62 214.51 L16.84 212.37 L15.06 211.30 L13.81 210.95 M1.20 196.70 L2.18 197.68 L3.64 198.66 L5.59 199.63 L8.03 200.12 L9.98 200.12 L12.42 199.63 L14.38 198.66 L15.84 197.68 L16.82 196.70 M6.57 193.29 L13.40 193.29 M8.52 193.29 L7.06 191.82 L6.57 190.85 L6.57 189.38 L7.06 188.41 L8.52 187.92 L13.40 187.92 M8.52 187.92 L7.06 186.46 L6.57 185.48 L6.57 184.02 L7.06 183.04 L8.52 182.55 L13.40 182.55 M3.15 174.74 L10.96 174.74 L12.42 175.23 L12.91 175.72 L13.40 176.70 L13.40 177.67 L12.91 178.65 L12.42 179.14 L10.96 179.62 L9.98 179.62 M6.57 171.82 L13.40 168.89 M6.57 165.96 L13.40 168.89 L15.35 169.86 L16.33 170.84 L16.82 171.82 L16.82 172.30 M1.20 163.52 L2.18 162.54 L3.64 161.57 L5.59 160.59 L8.03 160.10 L9.98 160.10 L12.42 160.59 L14.38 161.57 L15.84 162.54 L16.82 163.52" stroke="#000" stroke-width="0.55" stroke-linecap="round" stroke-linejoin="round"/>
<path d="M494.1 56.6 C494.6 54.6 496.2 53.0 497.8 53.3 C499.3 53.6 499.9 54.9 499.7 56.2 M499.9 55.0 L496.6 64.7 M499.9 56.0 C501.0 54.0 503.0 52.8 505.0 53.1 C506.5 53.4 506.8 54.9 505.9 55.6 C505.4 55.9 504.8 55.6 504.8 55.2 M512.6 48.2 L510.5 53.7" stroke="#000" stroke-width="0.95" stroke-linecap="round" stroke-linejoin="round"/>
</g>
</svg>
</body></html>
